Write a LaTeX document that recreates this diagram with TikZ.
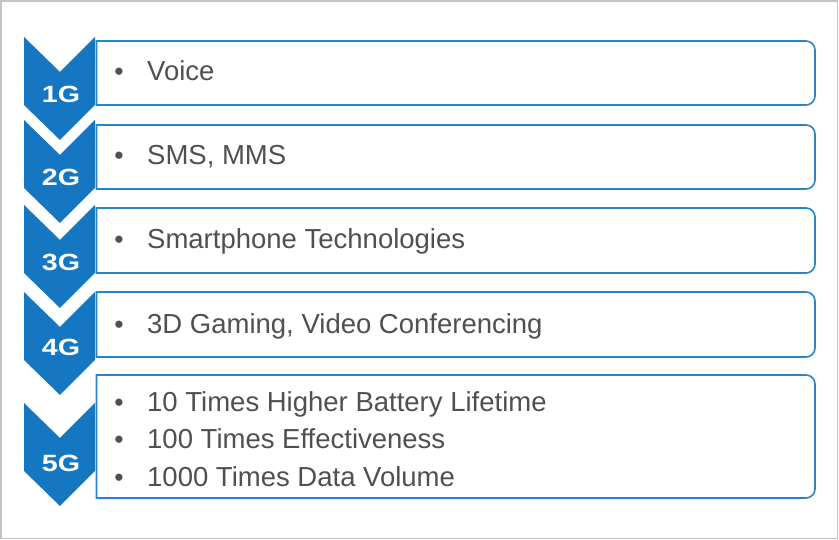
\documentclass[tikz,border=0pt]{standalone}
\usepackage{fontspec}
\setmainfont{Liberation Sans}
\newfontfamily\lblfont[FakeStretch=1.22]{Liberation Sans}
\definecolor{cblue}{HTML}{1576C1}
\definecolor{cline}{HTML}{2A84C8}
\definecolor{ctext}{HTML}{505050}
\definecolor{cframe}{HTML}{C4C4C4}
\begin{document}
\begin{tikzpicture}[x=1pt,y=1pt,
  chev/.style={fill=cblue},
  itembox/.style={draw=cline, line width=1.6pt, fill=white},
  gen/.style={text=white, font=\lblfont\bfseries\fontsize{23.5}{25}\selectfont, anchor=base, inner sep=0pt},
  item/.style={text=ctext, font=\fontsize{27.5}{30}\selectfont, anchor=base west, inner sep=0pt},
  bul/.style={text=ctext, font=\fontsize{26.5}{30}\selectfont, anchor=base, inner sep=0pt},
]
\useasboundingbox (0,0) rectangle (839,540);
\draw[cframe, line width=1.5pt] (1,1.5) rectangle (837.5,539);

% boxes (top, bottom)
\foreach \t/\b in {499/435, 415/351, 332/267, 248/183, 165/42}{
  \draw[itembox] (96.5,\b) -- (96.5,\t) -- (806,\t)
    arc[start angle=90, end angle=0, radius=9pt] -- (815,\b+9)
    arc[start angle=0, end angle=-90, radius=9pt] -- cycle;
}

% chevrons
\foreach \t in {503, 420, 335, 248, 137}{
  \fill[chev] (24,\t) -- (60,\t-35) -- (95,\t) -- (95,\t-68) -- (60,\t-103) -- (24,\t-68) -- cycle;
}

% generation labels
\node[gen] (g1) at (61,437) {1G};
\node[gen] (g2) at (61,354) {2G};
\node[gen] (g3) at (61,269) {3G};
\node[gen] (g4) at (61,184) {4G};
\node[gen] (g5) at (61,68) {5G};

% bullets and items
\node[bul] (b1) at (119,459) {•};
\node[item] (t1) at (147,459) {Voice};
\node[bul] (b2) at (119,375) {•};
\node[item] (t2) at (147,375) {SMS, MMS};
\node[bul] (b3) at (119,291) {•};
\node[item] (t3) at (147,291) {Smartphone Technologies};
\node[bul] (b4) at (119,206) {•};
\node[item] (t4) at (147,206) {3D Gaming, Video Conferencing};
\node[bul] (b5a) at (119,128) {•};
\node[item] (t5a) at (147,128) {10 Times Higher Battery Lifetime};
\node[bul] (b5b) at (119,91) {•};
\node[item] (t5b) at (147,91) {100 Times Effectiveness};
\node[bul] (b5c) at (119,53) {•};
\node[item] (t5c) at (147,53) {1000 Times Data Volume};
\end{tikzpicture}
\end{document}
